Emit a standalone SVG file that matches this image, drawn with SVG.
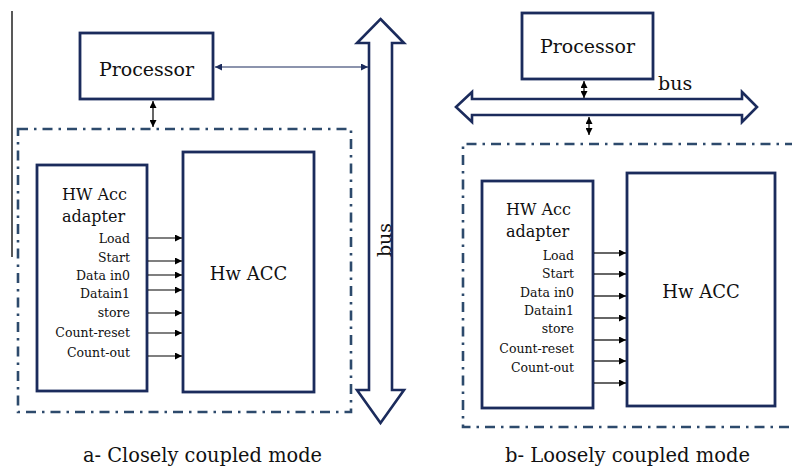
<svg xmlns="http://www.w3.org/2000/svg" width="792" height="467" viewBox="0 0 792 467">
<defs>
<marker id="ah" viewBox="0 0 10 10" refX="10" refY="5" markerWidth="8" markerHeight="7" markerUnits="userSpaceOnUse" orient="auto-start-reverse">
<path d="M0,0 L10,5 L0,10 Z" fill="#000"/>
</marker>
<marker id="ahn" viewBox="0 0 10 10" refX="10" refY="5" markerWidth="7" markerHeight="7" markerUnits="userSpaceOnUse" orient="auto-start-reverse">
<path d="M0,0 L10,5 L0,10 Z" fill="#1b2b5c"/>
</marker>
</defs>
<style>
.box{fill:#fff;stroke:#1b2b5c;stroke-width:2.8}
.dd{fill:none;stroke:#2d4a6c;stroke-width:2.6;stroke-dasharray:10 6 2.5 6}
.bus{fill:#fff;stroke:#1b2b5c;stroke-width:2.6;stroke-linejoin:miter}
.t{font-family:"DejaVu Serif","Liberation Serif",serif;fill:#111}
.sig{font-size:12.5px;text-anchor:end}
.ln{stroke:#000;stroke-width:1.2;fill:none}
</style>
<rect width="792" height="467" fill="#fff"/>
<line x1="12" y1="11" x2="12" y2="257" stroke="#222" stroke-width="1.5"/>

<g id="bus-a">
<polygon class="bus" points="380.5,19 404,43 392,43 392,390 404,390 380.5,423 357,390 369,390 369,43 357,43"/>
<text class="t" x="391" y="240" font-size="19" text-anchor="middle" transform="rotate(-90 391 240)">bus</text>
</g>
<g id="bus-b">
<polygon class="bus" points="456,107 472,92 472,99 742,99 742,92 757,107 742,122 742,115 472,115 472,122"/>
<text class="t" x="658" y="90" font-size="19">bus</text>
</g>

<g id="container-a"><rect class="dd" x="18" y="129" width="333" height="283"/></g>
<g id="container-b"><path class="dd" d="M795,144 H463 V427 H795"/></g>

<g id="proc-a">
<rect class="box" x="80" y="33" width="133" height="66"/>
<text class="t" x="146.5" y="76" font-size="19" text-anchor="middle">Processor</text>
</g>
<g id="proc-b">
<rect class="box" x="522" y="13" width="131" height="66"/>
<text class="t" x="587.5" y="53" font-size="19" text-anchor="middle">Processor</text>
</g>

<g id="adapter-a">
<rect class="box" x="37" y="165" width="110" height="226"/>
<text class="t" x="62" y="200" font-size="16">HW Acc</text>
<text class="t" x="62" y="222" font-size="16">adapter</text>
<text class="t sig" x="130" y="243">Load</text>
<text class="t sig" x="130" y="262">Start</text>
<text class="t sig" x="130" y="280">Data in0</text>
<text class="t sig" x="130" y="298">Datain1</text>
<text class="t sig" x="130" y="317">store</text>
<text class="t sig" x="130" y="337">Count-reset</text>
<text class="t sig" x="130" y="357">Count-out</text>
</g>
<g id="hwacc-a">
<rect class="box" x="183" y="152" width="131" height="240"/>
<text class="t" x="248.5" y="280" font-size="18" text-anchor="middle">Hw ACC</text>
</g>

<g id="adapter-b">
<rect class="box" x="482" y="181" width="111" height="227"/>
<text class="t" x="506" y="215" font-size="16">HW Acc</text>
<text class="t" x="506" y="237" font-size="16">adapter</text>
<text class="t sig" x="574" y="260">Load</text>
<text class="t sig" x="574" y="278">Start</text>
<text class="t sig" x="574" y="297">Data in0</text>
<text class="t sig" x="574" y="315">Datain1</text>
<text class="t sig" x="574" y="333">store</text>
<text class="t sig" x="574" y="353">Count-reset</text>
<text class="t sig" x="574" y="372">Count-out</text>
</g>
<g id="hwacc-b">
<rect class="box" x="627" y="173" width="148" height="233"/>
<text class="t" x="701" y="298" font-size="18" text-anchor="middle">Hw ACC</text>
</g>

<g id="connectors">
<line x1="215" y1="67" x2="368" y2="67" stroke="#1b2b5c" stroke-width="1.2" marker-start="url(#ahn)" marker-end="url(#ahn)"/>
<line class="ln" x1="153" y1="101" x2="153" y2="127" marker-start="url(#ah)" marker-end="url(#ah)"/>
<line class="ln" x1="584" y1="81" x2="584" y2="98" marker-start="url(#ah)" marker-end="url(#ah)"/>
<line class="ln" x1="589" y1="117" x2="589" y2="135" marker-start="url(#ah)" marker-end="url(#ah)"/>
<g marker-end="url(#ah)">
<line class="ln" x1="148" y1="238" x2="182" y2="238"/>
<line class="ln" x1="148" y1="261" x2="182" y2="261"/>
<line class="ln" x1="148" y1="275" x2="182" y2="275"/>
<line class="ln" x1="148" y1="290" x2="182" y2="290"/>
<line class="ln" x1="148" y1="313" x2="182" y2="313"/>
<line class="ln" x1="148" y1="333" x2="182" y2="333"/>
<line class="ln" x1="148" y1="356" x2="182" y2="356"/>
<line class="ln" x1="594" y1="253" x2="626" y2="253"/>
<line class="ln" x1="594" y1="274" x2="626" y2="274"/>
<line class="ln" x1="594" y1="296" x2="626" y2="296"/>
<line class="ln" x1="594" y1="318" x2="626" y2="318"/>
<line class="ln" x1="594" y1="340" x2="626" y2="340"/>
<line class="ln" x1="594" y1="361" x2="626" y2="361"/>
<line class="ln" x1="594" y1="383" x2="626" y2="383"/>
</g>
</g>

<text class="t" x="202.5" y="462" font-size="20" text-anchor="middle" textLength="239" lengthAdjust="spacingAndGlyphs">a- Closely coupled mode</text>
<text class="t" x="627.5" y="462" font-size="20" text-anchor="middle" textLength="245" lengthAdjust="spacingAndGlyphs">b- Loosely coupled mode</text>
</svg>
